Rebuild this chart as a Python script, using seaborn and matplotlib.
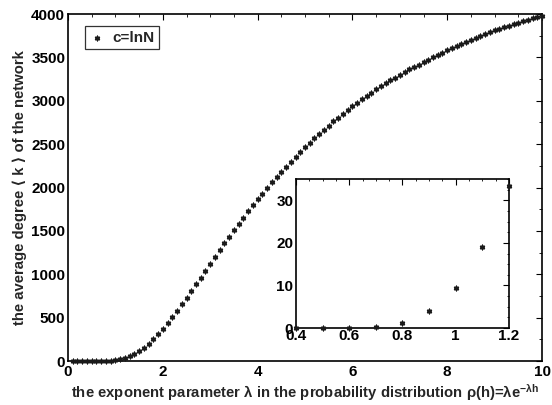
import numpy as np
import matplotlib
matplotlib.use("Agg")
import matplotlib.pyplot as plt
import seaborn as sns
from matplotlib.ticker import MultipleLocator

# exponent parameter lambda (0.1 ... 10) and average degree
lam = np.round(np.arange(1, 101) * 0.1, 1)
avg_k = [0, 0, 0, 0, 0.02, 0.1, 0.35, 1.25, 3.9, 9.4,
         19, 33.4, 53, 80, 113, 153, 199, 251, 309, 372,
         440, 505, 578, 653, 730, 807, 884, 961, 1041, 1120,
         1200, 1278, 1355, 1432, 1507, 1581, 1654, 1725, 1795, 1863,
         1930, 1996, 2060, 2122, 2182, 2241, 2298, 2354, 2409, 2463,
         2516, 2567, 2617, 2666, 2714, 2761, 2806, 2850, 2893, 2935,
         2976, 3016, 3055, 3093, 3130, 3166, 3201, 3235, 3268, 3300,
         3331, 3361, 3390, 3418, 3446, 3473, 3500, 3526, 3552, 3580,
         3606, 3631, 3656, 3680, 3703, 3726, 3748, 3769, 3790, 3810,
         3829, 3848, 3866, 3884, 3901, 3918, 3934, 3949, 3964, 3978]
series_label = "c=lnN"
x_ticks = [0, 2, 4, 6, 8, 10]
y_ticks = [0, 500, 1000, 1500, 2000, 2500, 3000, 3500, 4000]
inset_x_ticks = [0.4, 0.6, 0.8, 1, 1.2]
inset_y_ticks = [0, 10, 20, 30]

sns.set_style("white")
plt.rcParams['font.family'] = ['Liberation Sans', 'DejaVu Sans']
plt.rcParams['font.weight'] = 'bold'
plt.rcParams['mathtext.fontset'] = 'custom'
plt.rcParams['mathtext.rm'] = 'Liberation Sans:bold'
plt.rcParams['mathtext.it'] = 'Liberation Sans:bold'
plt.rcParams['mathtext.bf'] = 'Liberation Sans:bold'

fig = plt.figure(figsize=(5.52, 4.05), dpi=100)
ax = fig.add_axes([0.1232, 0.1086, 0.8587, 0.8568])

mk = dict(marker=(6, 2, 0), s=10, color='#1a1a1a', linewidth=1.1, clip_on=False, zorder=3)
sns.scatterplot(x=lam, y=avg_k, ax=ax, label=series_label, **mk)

ax.set_xlim(0, 10)
ax.set_ylim(0, 4000)
ax.set_xticks(x_ticks)
ax.set_yticks(y_ticks)
ax.xaxis.set_minor_locator(MultipleLocator(0.5))
ax.yaxis.set_minor_locator(MultipleLocator(250))


def matlab_axes(a, fs):
    for s in a.spines.values():
        s.set_visible(True)
        s.set_color('black')
        s.set_linewidth(1.2)
    a.tick_params(which='both', direction='in', top=True, right=True,
                  labelsize=fs, colors='black', pad=2)
    a.tick_params(axis='x', pad=3)
    a.tick_params(which='major', length=4, width=0.8)
    a.tick_params(which='minor', length=2, width=0.6)
    for t in a.get_xticklabels() + a.get_yticklabels():
        t.set_fontweight('bold')


matlab_axes(ax, 11)

ax.set_xlabel(r"the exponent parameter λ in the probability distribution ρ(h)=λe$^{-\lambda h}$",
              fontsize=10.7, fontweight='bold', labelpad=2)
ax.set_ylabel("the average degree ⟨ k ⟩ of the network", fontsize=10.7,
              fontweight='bold', labelpad=3)

leg = ax.legend(loc='upper left', bbox_to_anchor=(0.035, 0.965), fontsize=11,
                frameon=True, fancybox=False, handlelength=1.0,
                handletextpad=0.5, borderpad=0.3, borderaxespad=0)
leg.get_frame().set_edgecolor('black')
leg.get_frame().set_linewidth(0.9)
for t in leg.get_texts():
    t.set_fontweight('bold')

# inset: small lambda region
ins = fig.add_axes([0.5362, 0.1901, 0.3859, 0.3679])
lam_arr = np.array(lam)
k_arr = np.array(avg_k)
sel = (lam_arr >= 0.4) & (lam_arr <= 1.2)
sns.scatterplot(x=lam_arr[sel], y=k_arr[sel], ax=ins, legend=False, **mk)
ins.set_xlim(0.4, 1.2)
ins.set_ylim(0, 35)
ins.set_xticks(inset_x_ticks)
ins.set_xticklabels(["0.4", "0.6", "0.8", "1", "1.2"])
ins.set_yticks(inset_y_ticks)
ins.xaxis.set_minor_locator(MultipleLocator(0.05))
ins.yaxis.set_minor_locator(MultipleLocator(2.5))
ins.set_xlabel("")
ins.set_ylabel("")
matlab_axes(ins, 11)
ins.tick_params(which='minor', length=1.5)
ins.tick_params(axis='x', pad=1)

fig.savefig("out.png", dpi=100)
